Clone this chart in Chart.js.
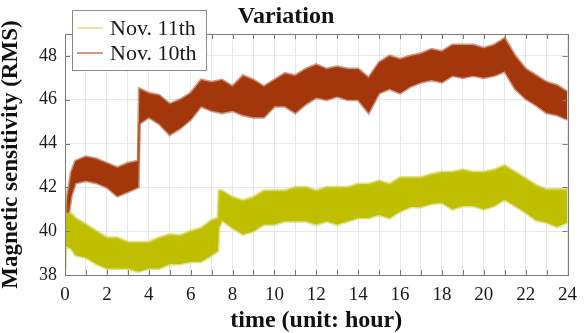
<!DOCTYPE html>
<html>
<head>
<meta charset="utf-8">
<script src="https://cdn.jsdelivr.net/npm/chart.js@4.4.1/dist/chart.umd.min.js"></script>
<style>
  html, body { margin: 0; padding: 0; background: #ffffff; }
  #wrap { width: 586px; height: 333px; }
</style>
</head>
<body>
<div id="wrap"><canvas id="chart" width="586" height="333"></canvas></div>
<script>
// Hourly RMS magnetic sensitivity: the noisy traces are drawn as bands
// between their upper and lower envelopes.
const hoursNov10 = [0, 0.1, 0.3, 0.5, 1, 1.5, 2, 2.5, 3, 3.5, 3.55, 4, 4.5, 5, 5.5, 6, 6.5, 7, 7.5, 8, 8.5, 9, 9.5, 10, 10.5, 11, 11.5, 12, 12.5, 13, 13.5, 14, 14.5, 15, 15.5, 16, 16.5, 17, 17.5, 18, 18.5, 19, 19.5, 20, 20.5, 21, 21.5, 22, 22.5, 23, 23.5, 24];
const nov10Upper = [40.7, 41.5, 42.7, 43.2, 43.4, 43.3, 43.1, 42.9, 43.1, 43.2, 46.5, 46.3, 46.2, 45.8, 46.0, 46.3, 46.9, 46.8, 46.9, 46.6, 47.1, 46.9, 46.6, 46.9, 47.2, 47.1, 47.4, 47.6, 47.4, 47.5, 47.4, 47.4, 47.0, 47.7, 48.0, 47.85, 48.0, 48.1, 48.3, 48.2, 48.5, 48.5, 48.5, 48.35, 48.5, 48.8, 48.0, 47.4, 47.1, 46.8, 46.65, 46.35];
const nov10Lower = [40.0, 40.3, 41.6, 42.2, 42.3, 42.2, 42.0, 41.6, 41.8, 42.0, 44.9, 45.2, 44.9, 44.4, 44.7, 45.1, 45.7, 45.5, 45.4, 45.5, 45.3, 45.2, 45.2, 45.7, 45.7, 45.4, 45.8, 46.1, 46.0, 46.15, 46.0, 46.0, 45.4, 46.3, 46.5, 46.3, 46.6, 46.8, 46.9, 46.8, 47.1, 47.0, 47.1, 47.0, 47.1, 47.3, 46.5, 46.05, 45.75, 45.4, 45.3, 45.1];

const hoursNov11 = [0, 0.05, 0.3, 0.5, 1, 1.5, 2, 2.5, 3, 3.5, 4, 4.5, 5, 5.5, 6, 6.5, 7, 7.3, 7.35, 7.5, 8, 8.5, 9, 9.5, 10, 10.5, 11, 11.5, 12, 12.5, 13, 13.5, 14, 14.5, 15, 15.5, 16, 16.5, 17, 17.5, 18, 18.5, 19, 19.5, 20, 20.5, 21, 21.5, 22, 22.5, 23, 23.5, 24];
const nov11Upper = [42.0, 40.8, 40.8, 40.6, 40.3, 40.0, 39.7, 39.7, 39.5, 39.5, 39.5, 39.7, 39.85, 39.8, 40.0, 40.15, 40.5, 40.6, 41.85, 41.85, 41.55, 41.4, 41.55, 41.85, 41.85, 41.85, 42.0, 42.0, 41.85, 42.0, 42.0, 42.0, 42.15, 42.15, 42.3, 42.15, 42.45, 42.45, 42.45, 42.6, 42.7, 42.7, 42.8, 42.7, 42.7, 42.8, 43.0, 42.7, 42.4, 42.1, 41.9, 41.9, 41.9];
const nov11Lower = [38.2, 39.3, 39.2, 38.9, 38.8, 38.5, 38.3, 38.3, 38.3, 38.15, 38.3, 38.3, 38.5, 38.5, 38.6, 38.6, 38.9, 39.1, 40.15, 40.5, 40.15, 39.85, 40.0, 40.3, 40.3, 40.45, 40.45, 40.45, 40.3, 40.45, 40.3, 40.45, 40.6, 40.6, 40.75, 40.6, 40.9, 41.1, 41.1, 41.25, 41.3, 41.0, 41.15, 41.15, 41.0, 41.15, 41.45, 41.15, 40.85, 40.5, 40.4, 40.2, 40.4];

const seriesNames = ['Nov. 11th', 'Nov. 10th'];
const xTickValues = [0, 1, 2, 3, 4, 5, 6, 7, 8, 9, 10, 11, 12, 13, 14, 15, 16, 17, 18, 19, 20, 21, 22, 23, 24];
const yTickValues = [38, 40, 42, 44, 46, 48];

const FILL_NOV11 = '#bfbf00';
const EDGE_NOV11 = 'rgba(200, 200, 40, 0.55)';
const FILL_NOV10 = '#a3360b';
const EDGE_NOV10 = 'rgba(170, 70, 30, 0.55)';
const SERIF = "'Liberation Serif', 'Times New Roman', serif";

function pts(xs, ys) { return xs.map((x, i) => ({ x: x, y: ys[i] })); }

function band(name, fill, edge, xs, upper, lower) {
  return [
    { label: name, data: pts(xs, upper), borderColor: edge, backgroundColor: fill,
      borderWidth: 3, pointRadius: 0, tension: 0, fill: '+1' },
    { label: name + ' (low)', data: pts(xs, lower), borderColor: edge, backgroundColor: fill,
      borderWidth: 3, pointRadius: 0, tension: 0, fill: false }
  ];
}

// Box, inward tick marks and the framed legend, drawn in MATLAB style.
const frameAndLegend = {
  id: 'frameAndLegend',
  afterDatasetsDraw(chart) {
    const { ctx, chartArea: a, scales } = chart;
    ctx.save();
    ctx.strokeStyle = '#7a7a7a';
    ctx.lineWidth = 1;
    ctx.strokeRect(Math.round(a.left) + 0.5, Math.round(a.top) + 0.5,
                   Math.round(a.right - a.left), Math.round(a.bottom - a.top));
    ctx.beginPath();
    xTickValues.forEach(v => {
      const x = Math.round(scales.x.getPixelForValue(v)) + 0.5;
      ctx.moveTo(x, a.bottom); ctx.lineTo(x, a.bottom - 5);
      ctx.moveTo(x, a.top); ctx.lineTo(x, a.top + 5);
    });
    yTickValues.forEach(v => {
      const y = Math.round(scales.y.getPixelForValue(v)) + 0.5;
      ctx.moveTo(a.left, y); ctx.lineTo(a.left + 5, y);
      ctx.moveTo(a.right, y); ctx.lineTo(a.right - 5, y);
    });
    ctx.stroke();

    // legend
    const bx = 72.5, by = 10.5, bw = 134, bh = 60;
    ctx.fillStyle = '#ffffff';
    ctx.fillRect(bx, by, bw, bh);
    ctx.strokeStyle = '#8a8a8a';
    ctx.strokeRect(bx, by, bw, bh);
    const entries = [
      { text: seriesNames[0], color: '#d4d460', y: 28 },
      { text: seriesNames[1], color: '#b5502e', y: 53 }
    ];
    ctx.font = '22px ' + SERIF;
    ctx.textBaseline = 'middle';
    ctx.textAlign = 'left';
    entries.forEach(e => {
      ctx.strokeStyle = e.color;
      ctx.lineWidth = 1.2;
      ctx.beginPath();
      ctx.moveTo(77, e.y); ctx.lineTo(103, e.y);
      ctx.stroke();
      ctx.fillStyle = '#1a1a1a';
      ctx.fillText(e.text, 110, e.y + 1);
    });
    ctx.restore();
  }
};

new Chart(document.getElementById('chart'), {
  type: 'line',
  data: {
    datasets: [
      ...band(seriesNames[0], FILL_NOV11, EDGE_NOV11, hoursNov11, nov11Upper, nov11Lower),
      ...band(seriesNames[1], FILL_NOV10, EDGE_NOV10, hoursNov10, nov10Upper, nov10Lower)
    ]
  },
  options: {
    responsive: false,
    animation: false,
    layout: { padding: { left: 0, right: 14, top: 0, bottom: 0 } },
    plugins: {
      legend: { display: false },
      tooltip: { enabled: false },
      title: {
        display: true,
        text: 'Variation',
        color: '#111111',
        font: { family: SERIF, size: 24, weight: 'bold', lineHeight: 1.2 },
        padding: { top: 2, bottom: 3.2 }
      }
    },
    scales: {
      x: {
        type: 'linear',
        min: 0, max: 24,
        afterBuildTicks: s => { s.ticks = xTickValues.map(v => ({ value: v })); },
        afterFit: s => { s.height = 58; },
        ticks: {
          autoSkip: false, maxRotation: 0, padding: 9,
          color: '#1a1a1a',
          font: { family: SERIF, size: 19 },
          callback: v => (v % 2 === 0 ? String(v) : '')
        },
        grid: { color: '#e6e6e6', drawTicks: false },
        border: { display: false },
        title: {
          display: true, text: 'time (unit: hour)', color: '#111111',
          font: { family: SERIF, size: 24, weight: 'bold', lineHeight: 1.0 },
          padding: { top: 0, bottom: 0 }
        }
      },
      y: {
        min: 38, max: 49,
        afterBuildTicks: s => { s.ticks = yTickValues.map(v => ({ value: v })); },
        afterFit: s => { s.width = 65; },
        ticks: {
          padding: 8,
          color: '#1a1a1a',
          font: { family: SERIF, size: 18 }
        },
        grid: { color: '#e6e6e6', drawTicks: false },
        border: { display: false },
        title: {
          display: true, text: 'Magnetic sensitivity (RMS)', color: '#111111',
          font: { family: SERIF, size: 23, weight: 'bold', lineHeight: 1.0 },
          padding: { top: 0, bottom: 0 }
        }
      }
    }
  },
  plugins: [frameAndLegend]
});
</script>
</body>
</html>
